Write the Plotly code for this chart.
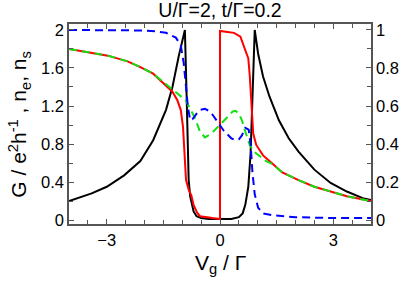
import plotly.graph_objects as go

# conductance G (left axis units)
x_G = [-4.0, -3.4, -3.0, -2.54, -2.11, -1.77, -1.43, -1.26, -1.09, -0.98, -0.93, -0.89, -0.86, -0.83, -0.79,
       -0.70, -0.62, -0.5, -0.3, 0.0, 0.3, 0.5, 0.6, 0.67, 0.75, 0.81, 0.85, 0.90, 0.92, 1.01, 1.14, 1.31,
       1.56, 1.82, 2.08, 2.5, 2.93, 3.36, 3.78, 4.0]
G = [0.20, 0.28, 0.35, 0.47, 0.62, 0.84, 1.16, 1.40, 1.73, 1.93, 2.00, 1.40, 0.88, 0.42, 0.25,
     0.09, 0.04, 0.02, 0.01, 0.01, 0.01, 0.03, 0.07, 0.16, 0.35, 0.70, 1.23, 1.82, 2.00, 1.75, 1.51, 1.30,
     1.05, 0.86, 0.72, 0.53, 0.39, 0.30, 0.23, 0.21]

# red solid curve
x_R = [-4.0, -3.5, -2.97, -2.45, -2.11, -1.77, -1.43, -1.26, -1.13, -1.04, -0.98, -0.94, -0.90, -0.83,
       -0.76, -0.70, -0.61, -0.53, -0.4, -0.2, 0.0, 0.0, 0.2, 0.37, 0.54, 0.62, 0.69, 0.75, 0.79, 0.84,
       0.88, 0.96, 1.14, 1.31, 1.65, 2.08, 2.5, 2.93, 3.36, 4.0]
R = [1.80, 1.765, 1.73, 1.67, 1.61, 1.54, 1.42, 1.35, 1.26, 1.16, 0.98, 0.70, 0.42, 0.32,
     0.26, 0.16, 0.08, 0.04, 0.03, 0.02, 0.01, 1.99, 1.98, 1.97, 1.93, 1.84, 1.75, 1.70, 1.51, 1.12,
     0.91, 0.79, 0.68, 0.62, 0.50, 0.42, 0.35, 0.30, 0.25, 0.20]

# n_e (green dashed)
x_E = [-4.0, -3.5, -2.97, -2.45, -2.11, -1.77, -1.43, -1.26, -1.17, -1.04, -0.91, -0.79, -0.66, -0.53,
       -0.40, -0.23, -0.1, 0.0, 0.12, 0.24, 0.33, 0.41, 0.50, 0.58, 0.67, 0.79, 0.90, 1.05, 1.22,
       1.39, 1.65, 2.08, 2.5, 2.93, 3.36, 4.0]
n_e = [1.80, 1.765, 1.73, 1.67, 1.61, 1.54, 1.43, 1.37, 1.34, 1.30, 1.26, 1.17, 1.07, 0.93,
       0.87, 0.91, 0.96, 1.00, 1.05, 1.10, 1.14, 1.15, 1.12, 1.05, 0.93, 0.79, 0.72, 0.67, 0.62,
       0.59, 0.50, 0.42, 0.35, 0.30, 0.25, 0.20]

# n_s (blue dashed)
x_S = [-4.0, -3.0, -2.0, -1.7, -1.43, -1.17, -1.04, -0.96, -0.91, -0.85, -0.79, -0.73, -0.62, -0.52,
       -0.40, -0.30, -0.2, -0.1, 0.0, 0.1, 0.2, 0.3, 0.41, 0.5, 0.58, 0.67, 0.76, 0.81, 0.86, 0.92,
       1.01, 1.14, 1.39, 2.0, 3.0, 4.0]
n_s = [2.0, 2.0, 1.995, 1.985, 1.97, 1.92, 1.84, 1.65, 1.44, 1.19, 1.05, 1.06, 1.12, 1.16,
       1.17, 1.15, 1.11, 1.05, 0.99, 0.94, 0.90, 0.86, 0.84, 0.85, 0.89, 0.97, 0.95, 0.80, 0.50, 0.27,
       0.13, 0.07, 0.05, 0.03, 0.02, 0.02]

title_text = "U/Γ=2, t/Γ=0.2"
x_title = "V<sub>g</sub> / Γ"
y_title = "G / e<sup>2</sup>h<sup>-1</sup> , n<sub>e</sub>, n<sub>s</sub>"

FONT = "Liberation Sans, Arial, sans-serif"
AX = "#555555"
TICKFONT = dict(size=16.5, family=FONT, color="black")
W, H = 411, 284

fig = go.Figure()
fig.add_trace(go.Scatter(x=x_G, y=G, mode="lines", line=dict(color="black", width=2)))
fig.add_trace(go.Scatter(x=x_R, y=R, mode="lines", line=dict(color="#ff0000", width=2)))
fig.add_trace(go.Scatter(x=x_E, y=n_e, mode="lines", line=dict(color="#11e011", width=2, dash="8px,5px")))
fig.add_trace(go.Scatter(x=x_S, y=n_s, mode="lines", line=dict(color="#0000ff", width=2, dash="8px,5px")))
fig.add_trace(go.Scatter(x=[], y=[], yaxis="y2", showlegend=False))

y_lo, y_hi = -0.042, 2.063

fig.update_layout(
    width=W, height=H, autosize=False,
    margin=dict(l=69, r=30, t=24, b=60),
    paper_bgcolor="white", plot_bgcolor="white",
    showlegend=False,
    font=dict(family=FONT, color="black"),
    title=dict(text=title_text, x=0.5, xref="paper", xanchor="center",
               y=1 - 10 / H, yref="container", yanchor="middle",
               font=dict(size=19.5, family=FONT, color="black")),
    xaxis=dict(range=[-4, 4], tick0=0, dtick=3, ticks="inside", ticklen=5, tickwidth=1,
               tickcolor=AX, minor=dict(dtick=0.5, ticks="inside", ticklen=4, tickcolor=AX),
               showline=True, linecolor=AX, linewidth=1.5, mirror="ticks",
               showgrid=False, zeroline=False, tickfont=TICKFONT),
    yaxis=dict(range=[y_lo, y_hi], tick0=0, dtick=0.4, ticks="inside", ticklen=5, tickwidth=1,
               tickcolor=AX, minor=dict(dtick=0.2, ticks="inside", ticklen=4, tickcolor=AX),
               showline=True, linecolor=AX, linewidth=1.5,
               showgrid=False, zeroline=False, tickfont=TICKFONT),
    yaxis2=dict(range=[y_lo / 2, y_hi / 2], overlaying="y", side="right", tick0=0, dtick=0.2,
                ticks="inside", ticklen=5, tickwidth=1, tickcolor=AX,
                minor=dict(dtick=0.1, ticks="inside", ticklen=4, tickcolor=AX),
                showline=True, linecolor=AX, linewidth=1.5,
                showgrid=False, zeroline=False, tickfont=TICKFONT),
    annotations=[
        dict(text=x_title, x=0.5, y=(224 - 264) / 200, xref="paper", yref="paper",
             xanchor="center", yanchor="middle", showarrow=False, font=dict(size=21)),
        dict(text=y_title, x=(17 - 69) / 312, y=0.5, xref="paper", yref="paper",
             xanchor="center", yanchor="middle", textangle=-90, showarrow=False, font=dict(size=21)),
    ],
)

post = (
    "document.documentElement.style.margin='0';"
    "document.documentElement.style.overflow='hidden';"
    "document.body.style.margin='0';"
    "document.body.style.overflow='hidden';"
    "var gd=document.getElementById('{plot_id}');"
    "Plotly.relayout(gd,{width:%d,height:%d});" % (W, H)
)

fig.write_html("out.html", config={"displayModeBar": False, "responsive": False},
               post_script=post)
